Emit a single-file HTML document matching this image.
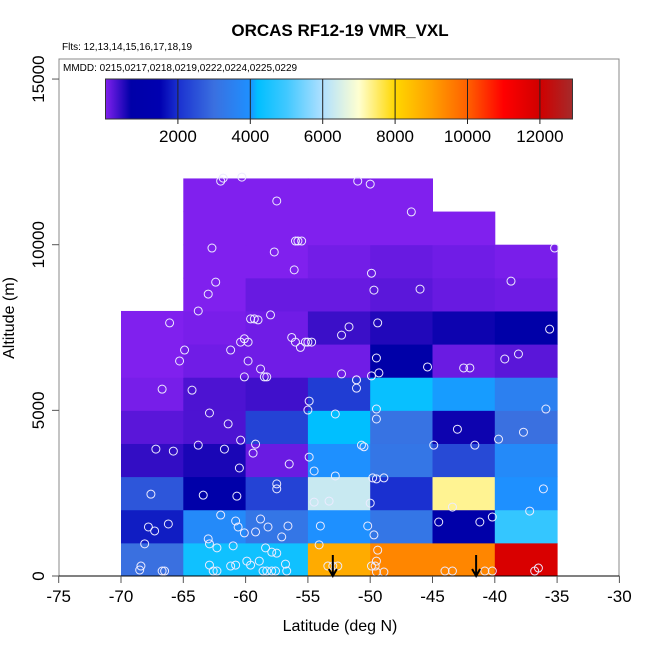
<!DOCTYPE html>
<html><head><meta charset="utf-8"><style>
body{margin:0;background:#fff;}
svg{display:block;font-family:"Liberation Sans",sans-serif;}
</style></head><body>
<svg id="chart" width="650" height="650">
<defs><linearGradient id="cbgrad" x1="0" x2="1" y1="0" y2="0"></linearGradient></defs>
<text x="340" y="36" text-anchor="middle" font-size="17" font-weight="bold">ORCAS RF12-19 VMR_VXL</text>
<text x="62" y="50" font-size="10">Flts: 12,13,14,15,16,17,18,19</text>
<rect x="59" y="59" width="560" height="517" fill="none" stroke="#888" stroke-width="1"/>
<text x="63" y="71" font-size="10">MMDD: 0215,0217,0218,0219,0222,0224,0225,0229</text>
<g id="cells"></g>
<g id="points"></g>
<g id="arrows"></g>
<g id="axes"></g>
<g id="colorbar"></g>
<text x="340" y="631" text-anchor="middle" font-size="16">Latitude (deg N)</text>
<text transform="translate(14,318) rotate(-90)" text-anchor="middle" font-size="16">Altitude (m)</text>
</svg>
<script>
const latBins=[-70,-65,-60,-55,-50,-45,-40];
const altBins=[0,1000,2000,3000,4000,5000,6000,7000,8000,9000,10000,11000];
// values[row][col], row = altitude bin, col = latitude bin
const row0=[3000,4400,4400,8800,9400,9400,11800];
const row1=[1800,3800,3200,4000,3200,800,4850];
const row2=[2600,800,2300,6300,2000,7300,4000];
const row3=[420,560,120,4000,3200,2400,3800];
const row4=[210,280,2300,4200,3100,630,3000];
const row5=[50,280,350,2200,4300,4050,3500];
const row6=[0,85,85,85,700,120,210];
const row7=[0,40,85,380,520,630,700];
const row8=[null,0,130,130,200,130,100];
const row9=[null,0,0,70,130,85,40];
const row10=[null,0,0,0,0,0,null];
const row11=[null,0,0,0,0,null,null];
const values=[row0,row1,row2,row3,row4,row5,row6,row7,row8,row9,row10,row11];
const ptLat=[-62.0,-61.8,-60.3,-57.5,-51.0,-50.0,-46.7,-62.7,-57.7,-56.0,-55.8,-55.5,-56.1,-49.9,-49.7,-46.0,-38.7,-35.2,-63.0,-62.4,-63.8,-66.1,-64.9,-65.3,-59.6,-59.3,-59.0,-58.0,-60.4,-60.1,-59.8,-61.2,-59.8,-56.3,-56.0,-55.6,-55.2,-55.0,-54.7,-51.7,-52.3,-49.4,-49.5,-45.4,-42.5,-42.0,-39.2,-38.1,-35.6,-60.1,-58.8,-58.5,-58.3,-52.3,-51.1,-49.9,-49.3,
-66.7,-64.3,-62.9,-61.4,-60.4,-67.2,-65.8,-63.8,-61.7,-60.5,-59.2,-59.4,-56.5,-67.6,-63.4,-60.7,-57.5,-57.5,-67.8,-67.3,-66.2,-68.1,-62.0,-60.8,-60.6,-60.1,-58.8,-58.2,-59.2,-56.6,-57.1,-63.0,-62.9,-62.3,-61.0,-58.4,-57.9,-57.5,-68.5,-68.4,-66.7,-66.5,-62.9,-62.6,-62.3,-61.2,-60.8,-59.9,-59.6,-58.9,-58.6,-58.3,-57.9,-57.6,-56.8,-56.7,-54.9,-55.0,-52.8,-54.5,-52.8,-54.9,-54.5,-53.3,-54.0,-54.1,-53.4,-53.0,-52.6,-51.1,-51.1,-49.5,-49.5,-50.7,-50.5,-49.8,-49.5,-48.9,-50.0,-50.2,-49.7,-49.4,-49.5,-49.9,-49.6,-49.5,-48.9,-44.9,-43.0,-41.6,-43.4,-44.5,-41.2,-40.2,-44.0,-43.4,-40.8,-40.2,-39.7,-37.7,-35.9,-36.1,-37.2,-36.8,-36.5];
const ptAlt=[11920,12010,12040,11320,11920,11830,10990,9900,9780,10110,10110,10110,9240,9140,8630,8660,8900,9900,8510,8870,8000,7640,6820,6490,7760,7760,7730,7880,7060,7160,7060,6820,6490,7200,7060,6900,7060,7060,7060,7520,7270,7640,6580,6310,6280,6280,6550,6700,7450,6010,6250,6010,6010,6100,5920,6040,6130,
5640,5610,4920,4590,4100,3830,3770,3950,3830,3260,3980,3710,3380,2470,2440,2410,2780,2630,1480,1360,1570,970,1840,1660,1480,1300,1720,1480,1330,1510,1180,1120,970,850,910,850,720,690,180,300,150,150,330,150,150,300,330,450,330,450,150,150,150,150,360,150,5280,5010,4890,3170,3020,3590,2230,2260,1510,940,300,300,300,5670,5920,5040,4740,3950,3900,2960,2930,2960,2200,1510,1240,780,450,300,300,120,120,3950,4430,3950,2080,1630,1630,1780,150,150,150,150,4130,4340,5040,2630,1960,150,240];
const arrowLat=[-53.0,-41.5];
const cbTicks=[2000,4000,6000,8000,10000,12000];
const xTicks=[-75,-70,-65,-60,-55,-50,-45,-40,-35,-30];
const yTicks=[0,5000,10000,15000];
const cmapV=[0,700,1500,2000,3000,4000,4200,5000,6000,7000,8000,9000,10000,11000,12000,12900];
const cmapC=['#8020ee','#0000a8','#0000b0','#1a30d0','#3a70e0','#1e90ff','#00bfff','#40c8ff','#b0e0ff','#ffffd0','#ffd700','#ffa000','#ff6000','#ff0000','#d00000','#a52a2a'];

const NS='http://www.w3.org/2000/svg';
const X=v=>58.7+(v+75)*12.46;
const Y=v=>576-v*0.03313;
const CB=v=>105.5+v*0.0362;
function hex(c){return [1,3,5].map(i=>parseInt(c.substr(i,2),16));}
function color(v){
  for(let i=0;i<cmapV.length-1;i++){
    if(v<=cmapV[i+1]){const t=(v-cmapV[i])/(cmapV[i+1]-cmapV[i]);const a=hex(cmapC[i]),b=hex(cmapC[i+1]);
      return 'rgb('+a.map((x,k)=>Math.round(x+(b[k]-x)*Math.max(0,t))).join(',')+')';}
  }
  return cmapC[cmapC.length-1];
}
function mk(tag,attrs,parent){const e=document.createElementNS(NS,tag);for(const k in attrs)e.setAttribute(k,attrs[k]);parent.appendChild(e);return e;}
const cells=document.getElementById('cells');
values.forEach((row,r)=>row.forEach((v,c)=>{
  if(v===null)return;
  const x0=X(latBins[c]),x1=X(latBins[c]+5),y0=Y(altBins[r]+1000),y1=Y(altBins[r]);
  const e=mk('rect',{x:x0,y:y0,width:x1-x0+0.5,height:y1-y0+0.5,fill:color(v)},cells);
  
  
}));
const pts=document.getElementById('points');
ptLat.forEach((la,i)=>{
  const e=mk('circle',{cx:X(la),cy:Y(ptAlt[i]),r:4,fill:'none',stroke:'#ecebff','stroke-width':1},pts);
  
  
});
const arr=document.getElementById('arrows');
arrowLat.forEach(la=>{
  const x=X(la);
  const e=mk('path',{d:`M${x},555 L${x},576 M${x-4},569 L${x},576 L${x+4},569`,stroke:'#000','stroke-width':2,fill:'none'},arr);
  
  
});
const ax=document.getElementById('axes');
mk('line',{x1:X(-75),x2:X(-30),y1:576,y2:576,stroke:'#000','stroke-width':1},ax);
xTicks.forEach(t=>{
  mk('line',{x1:X(t),x2:X(t),y1:576,y2:583,stroke:'#555'},ax);
  const e=mk('text',{x:X(t),y:602,'text-anchor':'middle','font-size':17},ax);e.textContent=t;
  
  
});
yTicks.forEach(t=>{
  mk('line',{x1:52,x2:59,y1:Y(t),y2:Y(t),stroke:'#555'},ax);
  const e=mk('text',{transform:`translate(44,${Y(t)}) rotate(-90)`,'text-anchor':'middle','font-size':17},ax);e.textContent=t;
  
  
});
const grad=document.getElementById('cbgrad');
cmapV.forEach((v,i)=>mk('stop',{offset:(v/12900),'stop-color':cmapC[i]},grad));
const cb=document.getElementById('colorbar');
const bar=mk('rect',{x:CB(0),y:79,width:CB(12900)-CB(0),height:40,fill:'url(#cbgrad)',stroke:'#333'},cb);


cbTicks.forEach(t=>{
  mk('line',{x1:CB(t),x2:CB(t),y1:79,y2:124,stroke:'#222'},cb);
  const e=mk('text',{x:CB(t),y:142,'text-anchor':'middle','font-size':17},cb);e.textContent=t;
  
  
});
</script>
</body></html>
